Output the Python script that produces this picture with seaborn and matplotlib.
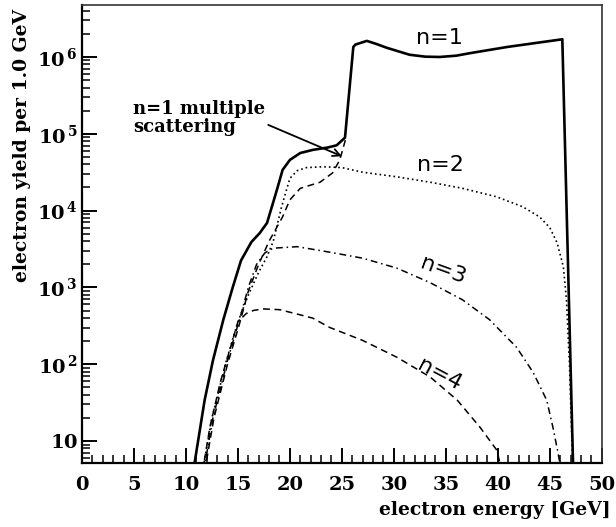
import numpy as np
import pandas as pd
import matplotlib
matplotlib.use("Agg")
import matplotlib.pyplot as plt
from matplotlib.ticker import FixedLocator, FuncFormatter, NullFormatter
import seaborn as sns

# Electron yield per 1 GeV bin versus electron energy, for harmonics n = 1..4
n1_energy = [10.7, 11.8, 12.6, 13.6, 14.5, 15.3, 16.3, 17.1, 17.8, 18.75, 19.3, 20.0,
             21.0, 22.2, 23.6, 24.5, 25.3, 26.1, 26.3, 27.4, 28.3, 29.3, 31.5, 33.0,
             34.4, 36.0, 37.3, 40.9, 46.2, 47.25]
n1_yield = [4, 34, 112, 380, 1000, 2240, 3900, 5100, 6900, 18600, 33900, 45700,
            56200, 61700, 66100, 70800, 89100, 1.35e6, 1.45e6, 1.62e6, 1.48e6, 1.32e6,
            1.07e6, 1.01e6, 1.0e6, 1.04e6, 1.12e6, 1.35e6, 1.70e6, 4]

ms_energy = [11.8, 12.7, 14.0, 15.1, 16.0, 17.0, 18.0, 19.3, 20.0, 21.0, 22.9, 24.1,
             24.8, 25.4]
ms_yield = [4, 20, 100, 316, 890, 2000, 4000, 8300, 13800, 19500, 23400, 30900,
            45700, 89100]

n2_energy = [11.6, 12.5, 13.9, 15.0, 16.0, 17.0, 17.8, 18.4, 19.2, 20.0, 20.7, 21.6,
             23.2, 25.0, 27.0, 30.3, 33.5, 36.6, 39.9, 42.4, 44.0, 45.0, 45.7, 46.3,
             46.6, 46.9, 47.1, 47.25]
n2_yield = [4, 20, 112, 355, 794, 1580, 2510, 3980, 11200, 26300, 33100, 36300,
            37200, 36300, 31600, 27500, 23400, 19500, 15100, 11200, 8300, 6000,
            3800, 1860, 690, 91, 12.6, 3]

n3_energy = [11.7, 12.6, 14.0, 15.2, 16.0, 16.8, 17.6, 18.4, 20.7, 23.8, 27.0, 30.3,
             33.5, 36.6, 39.2, 41.8, 43.4, 44.7, 45.3, 45.8, 46.1]
n3_yield = [4, 20, 112, 400, 1000, 2000, 2820, 3240, 3390, 2880, 2400, 1780,
            1150, 690, 380, 166, 78, 34, 15, 6.9, 4]

n4_energy = [11.6, 12.3, 13.3, 14.2, 15.0, 15.8, 16.5, 17.4, 19.0, 20.5, 22.2, 23.8,
             27.0, 30.3, 33.5, 36.1, 38.3, 39.9, 40.4]
n4_yield = [4, 15, 58, 151, 355, 457, 501, 525, 513, 457, 398, 302,
            204, 123, 68, 34, 15, 7.6, 4]

# axis ranges and tick positions
x_range = (0, 50)
y_range = (5.17, 4.75e6)
x_major = list(range(0, 51, 5))
x_minor = list(range(0, 51))
y_decades = [1, 2, 3, 4, 5, 6]

sns.set_style("ticks")
serif = ["DejaVu Serif"]
sans = ["DejaVu Sans"]
plt.rcParams["font.family"] = serif
plt.rcParams["font.weight"] = "bold"
plt.rcParams["text.color"] = "black"
plt.rcParams["axes.edgecolor"] = "black"
plt.rcParams["xtick.color"] = "black"
plt.rcParams["ytick.color"] = "black"
plt.rcParams["mathtext.fontset"] = "custom"
plt.rcParams["mathtext.rm"] = "DejaVu Serif:bold"
plt.rcParams["mathtext.it"] = "DejaVu Serif:bold"
plt.rcParams["mathtext.bf"] = "DejaVu Serif:bold"

fig = plt.figure(figsize=(6.16, 5.27), dpi=100)
ax = fig.add_axes([0.133, 0.1214, 0.844, 0.8691])

series = [
    (n1_energy, n1_yield, "-", 1.9),
    (ms_energy, ms_yield, (0, (4.5, 3.0)), 1.1),
    (n2_energy, n2_yield, (0, (1.0, 1.8)), 1.2),
    (n3_energy, n3_yield, (0, (4.5, 2.5, 1.0, 2.5)), 1.1),
    (n4_energy, n4_yield, (0, (4.5, 3.0)), 1.1),
]
for xs, ys, ls, lw in series:
    df = pd.DataFrame({"energy": xs, "yield": ys})
    sns.lineplot(data=df, x="energy", y="yield", sort=False, estimator=None,
                 color="black", linewidth=lw, linestyle=ls, ax=ax)

ax.set_yscale("log")
ax.set_xlim(*x_range)
ax.set_ylim(*y_range)

ax.xaxis.set_major_locator(FixedLocator(x_major))
ax.xaxis.set_minor_locator(FixedLocator(x_minor))
y_major = [10.0 ** e for e in y_decades]
y_minor = [m * 10.0 ** e for e in range(0, 7) for m in range(2, 10)
           if y_range[0] <= m * 10.0 ** e <= y_range[1]]
ax.yaxis.set_major_locator(FixedLocator(y_major))
ax.yaxis.set_minor_locator(FixedLocator(y_minor))
ax.yaxis.set_minor_formatter(NullFormatter())


def decade_label(v, pos):
    e = int(round(np.log10(v)))
    if e == 1:
        return r"$10\ \ \ $"
    return r"$10^{\,%d}$" % e


ax.yaxis.set_major_formatter(FuncFormatter(decade_label))
ax.tick_params(which="major", direction="in", length=11, width=1.4,
               labelsize=14, top=False, right=False, colors="black")
ax.tick_params(axis="x", which="major", pad=9)
ax.tick_params(axis="y", which="major", pad=3)
ax.tick_params(which="minor", direction="in", length=6, width=1.1,
               top=False, right=False, colors="black")
for lab in ax.get_xticklabels() + ax.get_yticklabels():
    lab.set_fontweight("bold")

for side in ["left", "bottom"]:
    ax.spines[side].set_linewidth(1.6)
    ax.spines[side].set_color("black")
for side in ["top", "right"]:
    ax.spines[side].set_linewidth(1.2)
    ax.spines[side].set_color("#333333")

ax.set_xlabel("")
ax.set_ylabel("")
ax.xaxis.label.set_visible(False)
ax.yaxis.label.set_visible(False)
fig.text(611 / 616, 1 - 510 / 527, "electron energy [GeV]", fontsize=13.5,
         fontweight="bold", ha="right", va="center", color="black")
fig.text(22 / 616, 1 - 145 / 527, "electron yield per 1.0 GeV", fontsize=13.5,
         fontweight="bold", ha="center", va="center", rotation=90, color="black")

ax.text(34.4, 1.77e6, "n=1", family=sans, fontsize=16, fontweight="normal",
        ha="center", va="center", color="black")
ax.text(34.5, 3.93e4, "n=2", family=sans, fontsize=16, fontweight="normal",
        ha="center", va="center", color="black")
ax.text(34.7, 1.69e3, "n=3", family=sans, fontsize=16, fontweight="normal",
        ha="center", va="center", rotation=-20, rotation_mode="anchor",
        color="black")
ax.text(34.4, 72, "n=4", family=sans, fontsize=16, fontweight="normal",
        ha="center", va="center", rotation=-28, rotation_mode="anchor",
        color="black")

ax.annotate("n=1 multiple\nscattering", xy=(25.0, 5.1e4), xytext=(4.9, 1.6e5),
            fontsize=13, fontweight="bold", ha="left", va="center",
            linespacing=1.0, color="black",
            arrowprops=dict(arrowstyle="->", color="black", lw=1.3,
                            shrinkA=0, shrinkB=0, relpos=(1.0, 0.35)))

fig.savefig("out.png", dpi=100)
